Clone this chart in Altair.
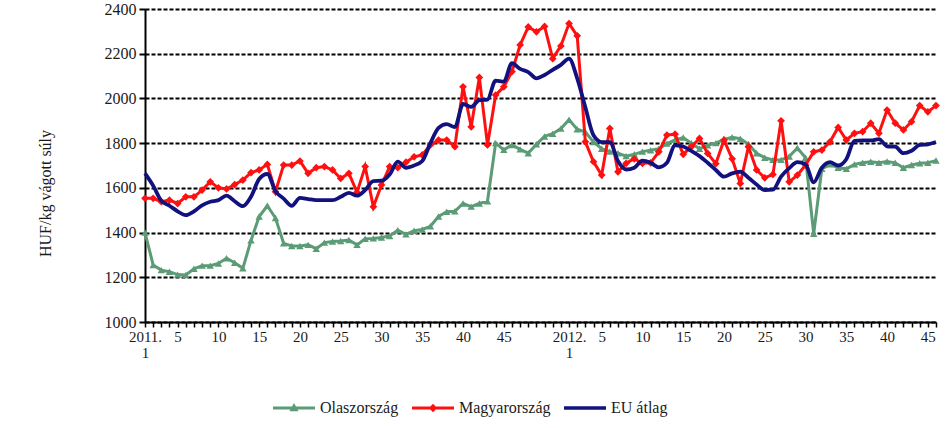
import json
import altair as alt
import pandas as pd

# 2011 week 1 .. 2012 week 46 (index 0..97)
olaszorszag = [
    1400, 1255, 1232, 1225, 1212, 1210, 1238, 1252, 1252, 1262,
    1285, 1265, 1240, 1365, 1472, 1520, 1465, 1352, 1340, 1340,
    1345, 1328, 1355, 1360, 1362, 1367, 1345, 1372, 1374, 1378,
    1385, 1410, 1392, 1408, 1414, 1428, 1472, 1493, 1495, 1530,
    1516, 1530, 1540, 1800, 1770, 1792, 1772, 1755, 1795, 1830,
    1842, 1865, 1905, 1862, 1850, 1805, 1775, 1762, 1755, 1742,
    1750, 1762, 1768, 1775, 1798, 1815, 1825, 1800, 1775, 1790,
    1800, 1817, 1826, 1820, 1795, 1755, 1735, 1725, 1725, 1740,
    1778, 1735, 1395, 1685, 1705, 1690, 1685, 1705, 1712, 1717,
    1712, 1718, 1712, 1690, 1702, 1710, 1712, 1722,
]
magyarorszag = [
    1553, 1553, 1538, 1545, 1530, 1560, 1560, 1590, 1627, 1600,
    1595, 1615, 1635, 1668, 1680, 1705, 1583, 1702, 1702, 1720,
    1665, 1690, 1695, 1680, 1642, 1665, 1580, 1695, 1515, 1613,
    1695, 1690, 1715, 1739, 1747, 1792, 1814, 1814, 1784, 2052,
    1873, 2094, 1792, 2015, 2052, 2120, 2239, 2320, 2298, 2322,
    2178, 2235, 2335, 2280, 1806, 1717, 1657, 1866, 1672, 1710,
    1730, 1710, 1712, 1761, 1836, 1840, 1750, 1784, 1821, 1754,
    1708, 1814, 1730, 1620, 1784, 1680, 1645, 1660, 1900, 1627,
    1657, 1702, 1761, 1769, 1806, 1870, 1814, 1844, 1851, 1889,
    1844, 1948, 1889, 1859, 1896, 1968, 1940, 1968,
]
eu_atlag = [
    1665, 1610, 1542, 1520, 1495, 1478, 1495, 1522, 1538, 1545,
    1565, 1540, 1518, 1560, 1640, 1662, 1585, 1552, 1520, 1555,
    1550, 1545, 1545, 1545, 1560, 1578, 1565, 1590, 1630, 1632,
    1660, 1717, 1690, 1700, 1720, 1800, 1868, 1885, 1872, 1975,
    1962, 1992, 1995, 2080, 2075, 2158, 2132, 2118, 2090, 2105,
    2128, 2150, 2178, 2090, 1960, 1835, 1805, 1805, 1720, 1682,
    1690, 1722, 1712, 1692, 1712, 1790, 1785, 1765, 1742, 1712,
    1680, 1650, 1665, 1672, 1645, 1615, 1590, 1592, 1650, 1688,
    1715, 1705, 1625, 1690, 1715, 1700, 1728, 1810, 1812, 1812,
    1818, 1786, 1784, 1755, 1766, 1792, 1795, 1805,
]

series_names = ["Olaszország", "Magyarország", "EU átlag"]
series_colors = ["#5b9b76", "#ff1010", "#12127f"]

# category tick labels (index -> label); multi-line labels separated by "|"
x_labels = {
    0: "2011.|1", 4: "5", 9: "10", 14: "15", 19: "20", 24: "25", 29: "30",
    34: "35", 39: "40", 44: "45",
    52: "2012.|1", 56: "5", 61: "10", 66: "15", 71: "20", 76: "25", 81: "30",
    86: "35", 91: "40", 96: "45",
}
y_ticks = [1000, 1200, 1400, 1600, 1800, 2000, 2200, 2400]
y_title = "HUF/kg vágott súly"

n = len(olaszorszag)
idx = list(range(n))
label_arr = []
for i in idx:
    lab = x_labels.get(i, "")
    if "|" in lab:
        a, b = lab.split("|")
        label_arr.append([a, b + "\u00a0" * 7])
    else:
        label_arr.append(lab)
label_expr = json.dumps(label_arr, ensure_ascii=False) + "[datum.value]"

FONT = "Liberation Serif"

df_o = pd.DataFrame({"idx": idx, "value": olaszorszag})
df_m = pd.DataFrame({"idx": idx, "value": magyarorszag})
df_e = pd.DataFrame({"idx": idx, "value": eu_atlag})
df_leg = pd.DataFrame({"idx": [0, 0, 0], "value": [500, 500, 500], "series": series_names})

x_enc = alt.X(
    "idx:Q",
    scale=alt.Scale(domain=[0, n - 1], nice=False, zero=False),
    axis=alt.Axis(
        values=idx, tickCount=200, labelExpr=label_expr, title=None, grid=False,
        labelOverlap=False, labelFlush=False, labelBound=False,
        tickSize=5, tickWidth=1.5, tickColor="black",
        domainColor="black", domainWidth=2,
        labelFont=FONT, labelFontSize=15, labelColor="#1a1a1a",
        labelPadding=2, labelLineHeight=16,
    ),
)
y_enc = alt.Y(
    "value:Q",
    scale=alt.Scale(domain=[1000, 2400], nice=False, zero=False),
    axis=alt.Axis(
        values=y_ticks, format="d", title=y_title, grid=True,
        gridColor="black", gridDash=[4, 2], gridWidth=2,
        tickSize=6, tickWidth=2, tickColor="black",
        domainColor="black", domainWidth=2,
        labelFont=FONT, labelFontSize=16, labelColor="#1a1a1a", labelPadding=3,
        titleFont=FONT, titleFontSize=16, titleFontWeight="normal", titleColor="#1a1a1a",
        titleAngle=270, titleX=-100, titleY=184, titleAlign="center", titleBaseline="middle",
    ),
)

line_o = alt.Chart(df_o).mark_line(color=series_colors[0], strokeWidth=3).encode(x=x_enc, y=y_enc)
pts_o = alt.Chart(df_o).mark_point(shape="triangle-up", filled=True, color=series_colors[0],
                                   size=55, opacity=1).encode(x="idx:Q", y="value:Q")
line_m = alt.Chart(df_m).mark_line(color=series_colors[1], strokeWidth=3).encode(x="idx:Q", y="value:Q")
pts_m = alt.Chart(df_m).mark_point(shape="diamond", filled=True, color=series_colors[1],
                                   size=60, opacity=1).encode(x="idx:Q", y="value:Q")
line_e = alt.Chart(df_e).mark_line(color=series_colors[2], strokeWidth=3.8,
                                   interpolate="monotone").encode(x="idx:Q", y="value:Q")

legend_paths = [
    "M-1,-0.07H1V0.07H-1Z M0,-0.24L0.22,0.16L-0.22,0.16Z",
    "M-1,-0.07H1V0.07H-1Z M0,-0.2L0.2,0L0,0.2L-0.2,0Z",
    "M-1,-0.08H1V0.08H-1Z",
]
leg_common = dict(
    orient="none", legendX=128, legendY=378, direction="horizontal", title=None,
    labelFont=FONT, labelFontSize=16, labelColor="#1a1a1a", labelOffset=5,
    columnPadding=13, symbolSize=1764, symbolStrokeWidth=0, padding=0,
)
leg = alt.Chart(df_leg).mark_point(filled=True, size=1764, clip=True, opacity=1).encode(
    x="idx:Q", y="value:Q",
    color=alt.Color("series:N", scale=alt.Scale(domain=series_names, range=series_colors),
                    legend=alt.Legend(**leg_common)),
    shape=alt.Shape("series:N", scale=alt.Scale(domain=series_names, range=legend_paths),
                    legend=alt.Legend(**leg_common)),
)

chart = alt.layer(line_o, pts_o, line_m, pts_m, line_e, leg).properties(
    width=791, height=313,
    autosize=alt.AutoSizeParams(type="none"),
    padding={"left": 145, "top": 9, "right": 9, "bottom": 106},
    background="white",
).configure(font=FONT).configure_axis(
    labelFont=FONT, titleFont=FONT
).configure_legend(labelFont=FONT).configure_view(stroke=None)

chart.save("out.html", embed_options={"renderer": "svg", "actions": False})
